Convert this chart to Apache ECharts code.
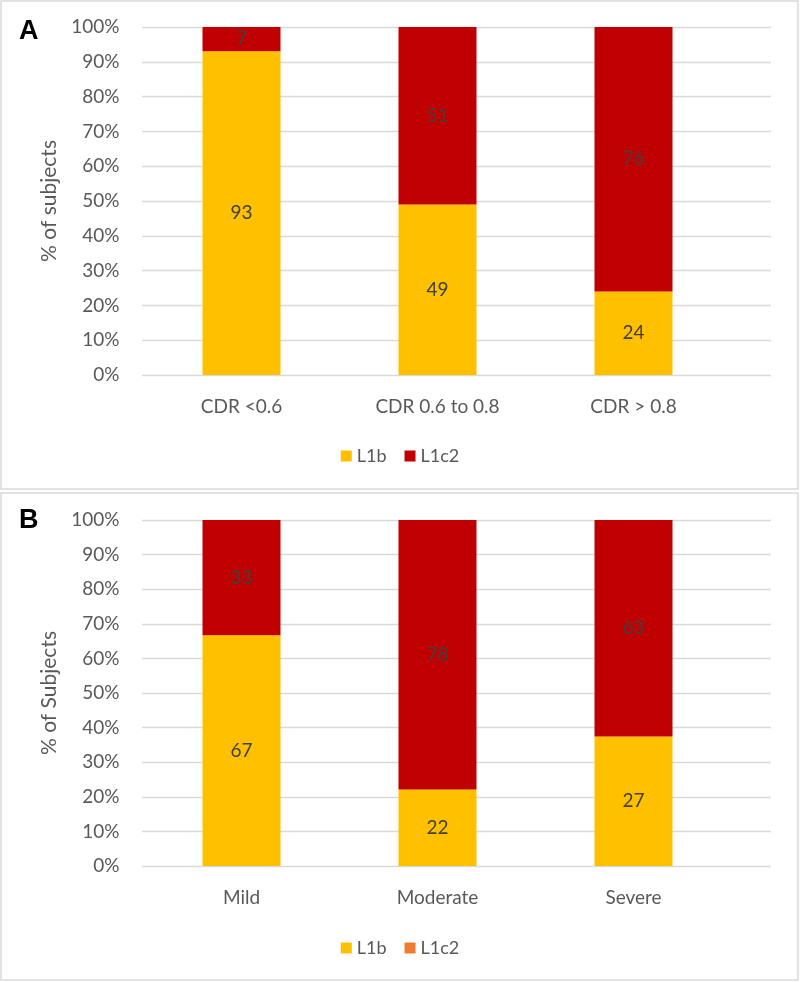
<!DOCTYPE html>
<html>
<head>
<meta charset="utf-8">
<script src="https://cdn.jsdelivr.net/npm/echarts@6/dist/echarts.min.js"></script>
<style>
html,body{margin:0;padding:0;background:#fff;}
#c{width:800px;height:982px;}
</style>
</head>
<body>
<div id="c"></div>
<script>
// Panel A
var catsA = ['CDR <0.6', 'CDR 0.6 to 0.8', 'CDR > 0.8'];
var l1bA = [93, 49, 24];
var l1c2A = [7, 51, 76];
var lblL1bA = ['93', '49', '24'];
var lblL1c2A = ['7', '51', '76'];
// Panel B
var catsB = ['Mild', 'Moderate', 'Severe'];
var l1bB = [66.7, 22.1, 37.4];
var l1c2B = [33.3, 77.9, 62.6];
var lblL1bB = ['67', '22', '27'];
var lblL1c2B = ['33', '78', '63'];
var yTicks = [0, 10, 20, 30, 40, 50, 60, 70, 80, 90, 100];

var FONT = 'Lato, "Open Sans", sans-serif';
var YEL = '#FFC000', RED = '#C00000', ORANGE = '#ED7D31';
var TXT = '#595959', LBL = '#404040', GRIDC = '#d9d9d9';

var chart = echarts.init(document.getElementById('c'), null, {renderer: 'canvas'});

function lblFn(arr) {
  return function (p) { return arr[p.dataIndex]; };
}

var panels = [
  {top: 27, height: 348, cats: catsA, a: l1bA, b: l1c2A, la: lblL1bA, lb: lblL1c2A, name: '% of subjects', legendTop: 442, legendColor2: RED},
  {top: 520, height: 346, cats: catsB, a: l1bB, b: l1c2B, la: lblL1bB, lb: lblL1c2B, name: '% of Subjects', legendTop: 934, legendColor2: ORANGE}
];

var grid = [], xAxis = [], yAxis = [], series = [], legend = [];
panels.forEach(function (p, i) {
  var gBars = grid.length;
  grid.push({left: 143.5, width: 588, top: p.top, height: p.height, containLabel: false});
  var gLines = grid.length;
  grid.push({left: 142, width: 629, top: p.top, height: p.height, containLabel: false});

  xAxis.push({type: 'category', gridIndex: gBars, data: p.cats,
    axisLine: {show: false}, axisTick: {show: false},
    axisLabel: {color: TXT, fontFamily: FONT, fontSize: 19, margin: 22}});
  xAxis.push({type: 'value', gridIndex: gLines, show: false, min: 0, max: 1});

  yAxis.push({type: 'value', gridIndex: gBars, min: 0, max: 100, interval: 10,
    axisLine: {show: false}, axisTick: {show: false}, splitLine: {show: false},
    axisLabel: {color: TXT, fontFamily: FONT, fontSize: 19, margin: 24, formatter: '{value}%'},
    name: p.name, nameLocation: 'middle', nameGap: 84, nameRotate: 90,
    nameTextStyle: {color: TXT, fontFamily: FONT, fontSize: 21}});
  yAxis.push({type: 'value', gridIndex: gLines, min: 0, max: 100, interval: 10,
    axisLine: {show: false}, axisTick: {show: false}, axisLabel: {show: false},
    splitLine: {show: true, lineStyle: {color: GRIDC, width: 1.3}}});

  var xi = xAxis.length - 2, yi = yAxis.length - 2;
  series.push({name: 'L1b', type: 'bar', stack: 's' + i, xAxisIndex: xi, yAxisIndex: yi,
    data: p.a, barWidth: 78, itemStyle: {color: YEL},
    label: {show: true, position: 'inside', color: LBL, fontFamily: FONT, fontSize: 19, formatter: lblFn(p.la)}});
  series.push({name: 'L1c2', type: 'bar', stack: 's' + i, xAxisIndex: xi, yAxisIndex: yi,
    data: p.b, barWidth: 78, itemStyle: {color: RED},
    label: {show: true, position: 'inside', color: LBL, fontFamily: FONT, fontSize: 19, formatter: lblFn(p.lb)}});

  legend.push({top: p.legendTop, left: 'center', itemWidth: 11, itemHeight: 11, itemGap: 18,
    icon: 'rect', seriesIndex: [series.length - 2, series.length - 1],
    textStyle: {color: TXT, fontFamily: FONT, fontSize: 18},
    data: [{name: 'L1b', itemStyle: {color: YEL}}, {name: 'L1c2', itemStyle: {color: p.legendColor2}}]});
});

var option = {
  animation: false,
  backgroundColor: '#fff',
  grid: grid, xAxis: xAxis, yAxis: yAxis, series: series, legend: legend,
  graphic: [
    {type: 'rect', shape: {x: 1, y: 1, width: 797, height: 488}, style: {fill: 'none', stroke: GRIDC, lineWidth: 1.5}, z: -1},
    {type: 'rect', shape: {x: 1, y: 493, width: 797, height: 487}, style: {fill: 'none', stroke: GRIDC, lineWidth: 1.5}, z: -1},
    {type: 'text', left: 19, top: 18, style: {text: 'A', fontFamily: '"Liberation Sans", Arial, sans-serif', fontWeight: 'bold', fontSize: 27, fill: '#000'}},
    {type: 'text', left: 19, top: 507, style: {text: 'B', fontFamily: '"Liberation Sans", Arial, sans-serif', fontWeight: 'bold', fontSize: 27, fill: '#000'}}
  ]
};
chart.setOption(option);
</script>
</body>
</html>
